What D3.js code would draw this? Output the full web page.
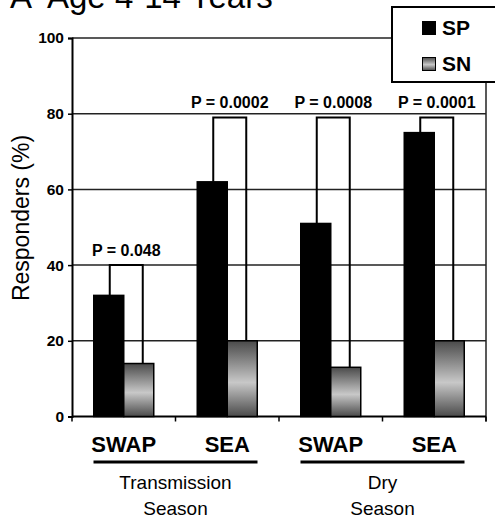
<!DOCTYPE html>
<html>
<head>
<meta charset="utf-8">
<script src="https://cdn.jsdelivr.net/npm/d3@7"></script>
<style>
  body { margin: 0; background: #fff; }
  text { font-family: "Liberation Sans", Arial, sans-serif; fill: #000; }
</style>
</head>
<body>
<script>
// data
var groups = ["tSWAP", "tSEA", "dSWAP", "dSEA"];
var groupLabels = ["SWAP", "SEA", "SWAP", "SEA"];
var series = ["SP", "SN"];
var spValues = [32, 62, 51, 75];
var snValues = [14, 20, 13, 20];
var bracketTops = [40, 79, 79, 79];
var pLabels = ["P = 0.048", "P = 0.0002", "P = 0.0008", "P = 0.0001"];
var seasons = [["Transmission", "Season"], ["Dry", "Season"]];
var yTicks = [0, 20, 40, 60, 80, 100];

var W = 495, H = 520;
var plotLeft = 72, plotRight = 486, plotTop = 38, plotBottom = 416.5;

var svg = d3.select("body").append("svg")
    .attr("width", W)
    .attr("height", H);

// gradient for SN bars
var grad = svg.append("defs").append("linearGradient")
    .attr("id", "snGrad")
    .attr("x1", 0).attr("y1", 0).attr("x2", 0).attr("y2", 1);
grad.append("stop").attr("offset", "0%").attr("stop-color", "#4a4a4a");
grad.append("stop").attr("offset", "55%").attr("stop-color", "#c8c8c8");
grad.append("stop").attr("offset", "100%").attr("stop-color", "#4a4a4a");

var x0 = d3.scaleBand().domain(groups).range([plotLeft, plotRight]);
var x1 = d3.scaleBand().domain(series).range([0, x0.bandwidth()]).paddingOuter(0.725);
var y = d3.scaleLinear().domain([0, 100]).range([plotBottom, plotTop]);

//Title (top is cut off in the original)
svg.append("text").attr("x", 10).attr("y", 8).style("font-size", "33px").text("A");
svg.append("text").attr("x", 47).attr("y", 8).style("font-size", "33px").text("Age 4-14 Years");

//Grid lines
svg.append("g").selectAll("line")
    .data(yTicks.slice(1))
    .enter().append("line")
    .attr("x1", plotLeft).attr("x2", plotRight)
    .attr("y1", function(d) { return y(d); })
    .attr("y2", function(d) { return y(d); })
    .attr("stroke", "#222")
    .attr("stroke-width", 1.5);

// right border
svg.append("line")
    .attr("x1", plotRight).attr("x2", plotRight)
    .attr("y1", y(100)).attr("y2", y(0) + 5)
    .attr("stroke", "#222").attr("stroke-width", 1.5);

//Y axis
var yAxis = d3.axisLeft(y).tickValues(yTicks).tickSize(4).tickPadding(4);
var gy = svg.append("g")
    .attr("transform", "translate(" + plotLeft + ",0)")
    .call(yAxis);
gy.select(".domain").attr("stroke", "#000").attr("stroke-width", 2);
gy.selectAll(".tick line").attr("stroke", "#000").attr("stroke-width", 1.5);
gy.selectAll(".tick text")
    .style("font-size", "15.5px")
    .style("font-weight", "bold")
    .style("font-family", "'Liberation Sans', Arial, sans-serif");

//X axis line and ticks at group boundaries
svg.append("line")
    .attr("x1", plotLeft).attr("x2", plotRight)
    .attr("y1", y(0)).attr("y2", y(0))
    .attr("stroke", "#000").attr("stroke-width", 2);
var bounds = groups.map(function(g) { return x0(g); }).concat([plotRight]);
svg.append("g").selectAll("line")
    .data(bounds)
    .enter().append("line")
    .attr("x1", function(d) { return d; })
    .attr("x2", function(d) { return d; })
    .attr("y1", y(0)).attr("y2", y(0) + 5)
    .attr("stroke", "#000").attr("stroke-width", 1.5);

//Bars
var barData = groups.map(function(g, i) {
    return [{g: g, s: "SP", v: spValues[i]}, {g: g, s: "SN", v: snValues[i]}];
});
svg.append("g").selectAll("g")
    .data(barData)
    .enter().append("g")
    .selectAll("rect")
    .data(function(d) { return d; })
    .enter().append("rect")
    .attr("x", function(d) { return x0(d.g) + x1(d.s); })
    .attr("y", function(d) { return y(d.v); })
    .attr("width", x1.bandwidth())
    .attr("height", function(d) { return y(0) - y(d.v); })
    .attr("fill", function(d) { return d.s == "SP" ? "#000" : "url(#snGrad)"; })
    .attr("stroke", "#000")
    .attr("stroke-width", 1.5);

//Significance brackets
groups.forEach(function(g, i) {
    var lx = x0(g) + x1("SP") + x1.bandwidth() / 2 + 1;
    var rx = x0(g) + x1("SN") + x1.bandwidth() / 2 + 4;
    var path = d3.path();
    path.moveTo(lx, y(spValues[i]));
    path.lineTo(lx, y(bracketTops[i]));
    path.lineTo(rx, y(bracketTops[i]));
    path.lineTo(rx, y(snValues[i]));
    svg.append("path")
        .attr("d", path.toString())
        .attr("fill", "none")
        .attr("stroke", "#000")
        .attr("stroke-width", 2);
    svg.append("text")
        .attr("x", (lx + rx) / 2)
        .attr("y", y(bracketTops[i]) - 9)
        .attr("text-anchor", "middle")
        .style("font-size", "16px")
        .style("font-weight", "bold")
        .text(pLabels[i]);
});

//Category labels
svg.append("g").selectAll("text")
    .data(groups)
    .enter().append("text")
    .attr("x", function(d) { return x0(d) + x0.bandwidth() / 2; })
    .attr("y", 452)
    .attr("text-anchor", "middle")
    .style("font-size", "22px")
    .style("font-weight", "bold")
    .text(function(d, i) { return groupLabels[i]; });

//Season lines and labels
seasons.forEach(function(s, i) {
    var cx = (x0(groups[i * 2]) + x0(groups[i * 2 + 1]) + x0.bandwidth()) / 2;
    svg.append("line")
        .attr("x1", cx - 82).attr("x2", cx + 82)
        .attr("y1", 462).attr("y2", 462)
        .attr("stroke", "#000").attr("stroke-width", 3);
    svg.append("text")
        .attr("x", cx).attr("y", 489)
        .attr("text-anchor", "middle")
        .style("font-size", "19px")
        .text(s[0]);
    svg.append("text")
        .attr("x", cx).attr("y", 515)
        .attr("text-anchor", "middle")
        .style("font-size", "19px")
        .text(s[1]);
});

//Y axis title
svg.append("text")
    .attr("transform", "translate(29,218) rotate(-90)")
    .attr("text-anchor", "middle")
    .style("font-size", "23px")
    .text("Responders (%)");

//Legend
var legend = svg.append("g");
legend.append("rect")
    .attr("x", 392).attr("y", 7)
    .attr("width", 120).attr("height", 75)
    .attr("fill", "#fff")
    .attr("stroke", "#000")
    .attr("stroke-width", 2);
series.forEach(function(s, i) {
    legend.append("rect")
        .attr("x", 422.5).attr("y", 21.5 + i * 36)
        .attr("width", 13).attr("height", 13)
        .attr("fill", s == "SP" ? "#000" : "url(#snGrad)")
        .attr("stroke", "#000")
        .attr("stroke-width", 1);
    legend.append("text")
        .attr("x", 442).attr("y", 35 + i * 36)
        .style("font-size", "21px")
        .style("font-weight", "bold")
        .text(s);
});
</script>
</body>
</html>
